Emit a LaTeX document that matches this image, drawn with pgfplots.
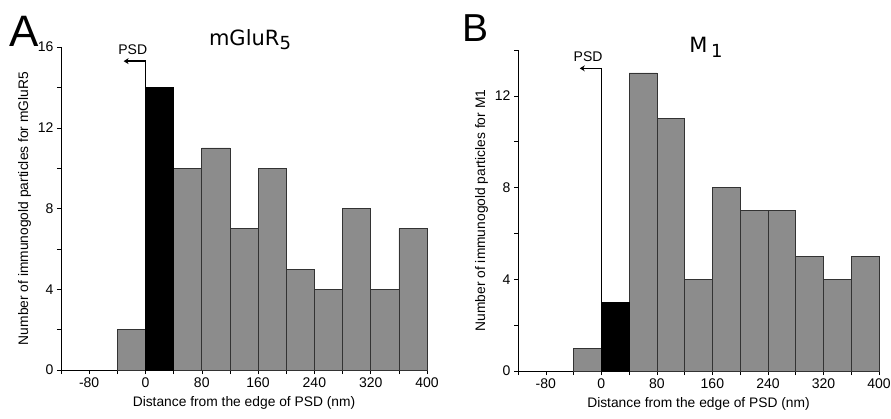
\documentclass[border=0pt]{standalone}
\usepackage{fontspec}
\setmainfont{Liberation Sans}
\newfontfamily\titlefont{DejaVu Sans}
\usepackage{pgfplots}
\pgfplotsset{compat=1.18}
\usetikzlibrary{arrows.meta}
\definecolor{bargray}{RGB}{140,140,140}

\pgfplotsset{
  histo/.style={
    scale only axis,
    axis lines*=left,
    xmin=-120, xmax=400, ymin=0,
    xtick={-80,0,...,400},
    minor xtick={-120,-40,40,120,200,280,360},
    tick align=outside,
    major tick length=4pt, minor tick length=4pt,
    every tick/.style={black, line width=0.5pt},
    axis line style={line width=0.6pt},
    xlabel={Distance from the edge of PSD (nm)},
    tick label style={font=\fontsize{14}{16}\selectfont},
    label style={font=\fontsize{13.8}{16}\selectfont},
    xlabel style={yshift=-2pt},
    /pgf/number format/assume math mode=true,
    clip=false,
  },
  gbar/.style={ybar interval, fill=bargray, draw=black!80, line width=0.6pt},
  bbar/.style={ybar interval, fill=black, draw=black, line width=0.6pt},
}

\begin{document}
\begin{tikzpicture}[x=1pt,y=1pt]
\path[use as bounding box] (0,0) rectangle (891,418);

% panel A
\begin{axis}[histo,
  at={(61pt,48pt)}, anchor=south west,
  width=366pt, height=323pt,
  ymax=16,
  ytick={0,4,8,12,16}, minor ytick={2,6,10,14},
  ylabel={Number of immunogold particles for mGluR5},
]
\addplot[gbar] coordinates {(-40,2) (0,14) (40,10) (80,11) (120,7) (160,10) (200,5) (240,4) (280,8) (320,4) (360,7) (400,7)};
\addplot[bbar] coordinates {(0,14) (40,14)};
\draw[line width=0.6pt] (axis cs:0,14) -- (axis cs:0,15.3);
\draw[line width=1.6pt, -{Stealth[length=5pt,width=6pt]}] (axis cs:0.5,15.3) -- (axis cs:-31,15.3);
\node[font=\fontsize{14}{16}\selectfont, anchor=base] at (axis cs:-18,15.65) {PSD};
\end{axis}

% panel B
\begin{axis}[histo,
  at={(518pt,47pt)}, anchor=south west,
  width=361pt, height=321pt,
  ymax=14,
  ytick={0,4,8,12}, minor ytick={2,6,10,14},
  ylabel={Number of immunogold particles for M1},
]
\addplot[gbar] coordinates {(-40,1) (0,3) (40,13) (80,11) (120,4) (160,8) (200,7) (240,7) (280,5) (320,4) (360,5) (400,5)};
\addplot[bbar] coordinates {(0,3) (40,3)};
\draw[line width=0.6pt] (axis cs:0,3) -- (axis cs:0,13.2);
\draw[line width=1.6pt, -{Stealth[length=5pt,width=6pt]}] (axis cs:0.5,13.2) -- (axis cs:-31,13.2);
\node[font=\fontsize{14}{16}\selectfont, anchor=base] at (axis cs:-19,13.5) {PSD};
\end{axis}

% titles and panel letters
\node[anchor=base, font=\titlefont\fontsize{21}{24}\selectfont] at (250,372)
  {mGluR\raisebox{-0.3ex}{\fontsize{18}{20}\selectfont 5}};
\node[anchor=base, font=\titlefont\fontsize{21}{24}\selectfont] at (706,365)
  {M\,\raisebox{-0.4ex}{\fontsize{18}{20}\selectfont 1}};
\node[anchor=base west, inner sep=0pt, font=\fontsize{44}{48}\selectfont] at (9,371) {A};
\node[anchor=base west, inner sep=0pt, font=\fontsize{39}{44}\selectfont] at (462,376) {B};
\end{tikzpicture}
\end{document}
